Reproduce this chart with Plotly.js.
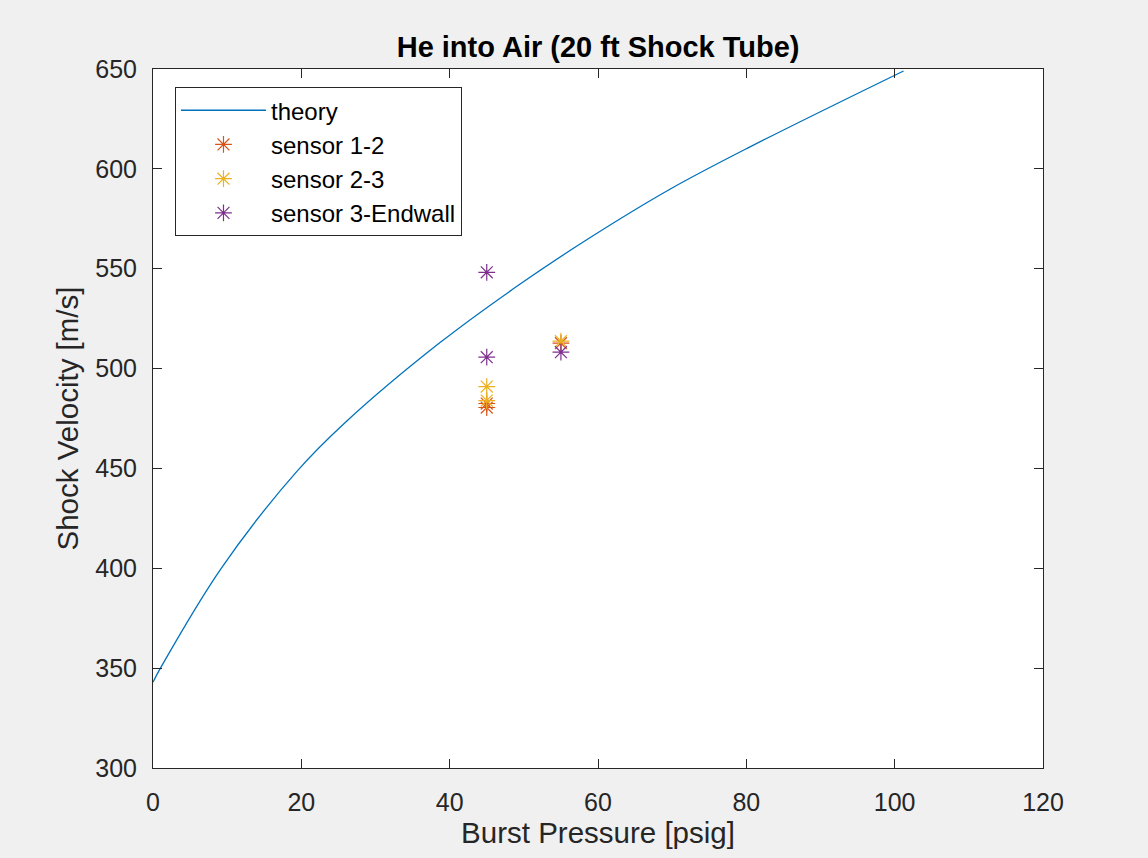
<!DOCTYPE html>
<html>
<head>
<meta charset="utf-8">
<script src="https://cdn.plot.ly/plotly-3.0.1.min.js"></script>
<style>html,body{margin:0;padding:0;background:#f0f0f0;}#chart{width:1148px;height:858px;}</style>
</head>
<body>
<div id="chart"></div>
<script>
// Theory curve
const theoryX = [0, 1.0, 9.2, 19.4, 26.1, 38.7, 49.5, 58.9, 69.7, 80.5, 101.2];
const theoryY = [343, 350, 400, 448.5, 473.6, 513, 542.3, 565.5, 589.8, 611, 649];
// Sensor measurements
const s12X = [45, 45, 55];
const s12Y = [480.5, 482.5, 512.7];
const s23X = [45, 45, 55];
const s23Y = [484, 491, 513.7];
const s3eX = [45, 45, 55];
const s3eY = [548.2, 505.7, 508.2];

const xTicks = [0, 20, 40, 60, 80, 100, 120];
const yTicks = [300, 350, 400, 450, 500, 550, 600, 650];

const FONT = 'Liberation Sans, Arial, sans-serif';
const markerStyle = (c) => ({symbol: 'asterisk-open', size: 14, color: c, line: {color: c, width: 1.2}});

const traces = [
  {x: theoryX, y: theoryY, mode: 'lines', name: 'theory',
   line: {color: '#0072BD', width: 1.3, shape: 'spline', smoothing: 1.0}},
  {x: s12X, y: s12Y, mode: 'markers', name: 'sensor 1-2', marker: markerStyle('#D95319')},
  {x: s23X, y: s23Y, mode: 'markers', name: 'sensor 2-3', marker: markerStyle('#EDB120')},
  {x: s3eX, y: s3eY, mode: 'markers', name: 'sensor 3-Endwall', marker: markerStyle('#7E2F8E')}
];

const axisCommon = {
  showgrid: false, zeroline: false, showline: true, mirror: 'ticks',
  linecolor: '#262626', linewidth: 1, ticks: 'inside', ticklen: 9, tickwidth: 1, tickcolor: '#262626',
  tickfont: {family: FONT, size: 25, color: '#262626'}
};

const layout = {
  width: 1148, height: 858,
  paper_bgcolor: '#f0f0f0', plot_bgcolor: '#ffffff',
  margin: {l: 153, r: 105, t: 69, b: 90},
  showlegend: true,
  title: {text: '<b>He into Air (20 ft Shock Tube)</b>', x: 0.521, xanchor: 'center', y: 0.945, yanchor: 'middle',
          font: {family: FONT, size: 29, color: '#000000'}},
  xaxis: Object.assign({}, axisCommon, {
    range: [0, 120], tickvals: xTicks, ticktext: xTicks.map(String), ticklabelstandoff: 12,
    title: {text: 'Burst Pressure [psig]', standoff: 6, font: {family: FONT, size: 29.5, color: '#262626'}}
  }),
  yaxis: Object.assign({}, axisCommon, {
    range: [300, 650], tickvals: yTicks, ticktext: yTicks.map(String), ticklabelstandoff: 10,
    title: {text: 'Shock Velocity [m/s]', standoff: 7, font: {family: FONT, size: 29.5, color: '#262626'}}
  }),
  legend: {
    x: 0.0247, y: 0.974, xanchor: 'left', yanchor: 'top',
    bgcolor: '#ffffff', bordercolor: '#262626', borderwidth: 1,
    font: {family: FONT, size: 24, color: '#000000'},
    itemwidth: 85
  }
};

Plotly.newPlot('chart', traces, layout, {displayModeBar: false, staticPlot: true});
</script>
</body>
</html>
